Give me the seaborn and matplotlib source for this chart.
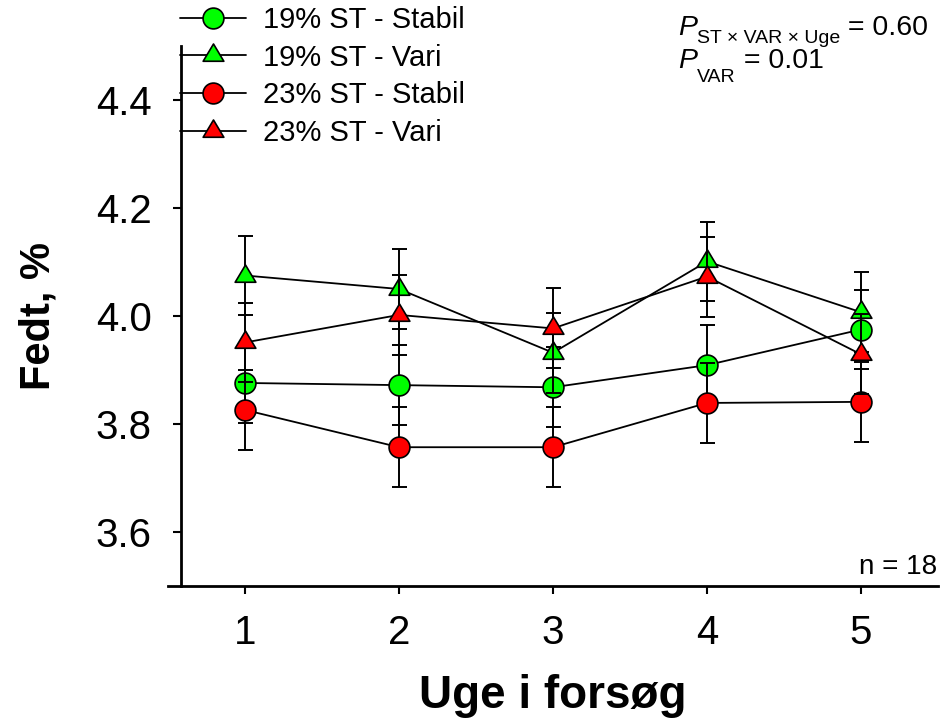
import matplotlib
matplotlib.use("Agg")
import numpy as np
import pandas as pd
import matplotlib.pyplot as plt
from matplotlib.lines import Line2D
from matplotlib.path import Path
import seaborn as sns

# ---- data: milk fat (%) per trial week, mean ± SE ----
weeks = [1, 2, 3, 4, 5]
week_labels = ["1", "2", "3", "4", "5"]
series_names = ["19% ST - Stabil", "19% ST - Vari", "23% ST - Stabil", "23% ST - Vari"]

fat_19_stabil = [3.876, 3.872, 3.868, 3.909, 3.975]
fat_19_vari = [4.075, 4.050, 3.932, 4.101, 4.007]
fat_23_stabil = [3.826, 3.757, 3.757, 3.839, 3.841]
fat_23_vari = [3.951, 4.002, 3.977, 4.073, 3.929]

se_19_stabil = [0.074, 0.074, 0.074, 0.074, 0.074]
se_19_vari = [0.074, 0.074, 0.074, 0.074, 0.074]
se_23_stabil = [0.074, 0.074, 0.074, 0.074, 0.074]
se_23_vari = [0.074, 0.074, 0.074, 0.074, 0.074]

y_ticks = [3.6, 3.8, 4.0, 4.2, 4.4]
y_tick_labels = ["3.6", "3.8", "4.0", "4.2", "4.4"]

p_interaction = "0.60"
p_var = "0.01"
n_label = "n = 18"

GREEN = "#00FF00"
RED = "#FF0000"

# triangle with its centroid on the data point
tri = Path([(0.0, 1.0), (-0.897, -0.5), (0.897, -0.5), (0.0, 1.0)],
           [Path.MOVETO, Path.LINETO, Path.LINETO, Path.CLOSEPOLY])

styles = [
    dict(face=GREEN, marker="o", ms=15.0),
    dict(face=GREEN, marker=tri, ms=16.6),
    dict(face=RED, marker="o", ms=15.0),
    dict(face=RED, marker=tri, ms=16.6),
]

means = [fat_19_stabil, fat_19_vari, fat_23_stabil, fat_23_vari]
errors = [se_19_stabil, se_19_vari, se_23_stabil, se_23_vari]

frames = []
for name, m, e in zip(series_names, means, errors):
    frames.append(pd.DataFrame({"Uge": weeks, "Fedt": m, "SE": e, "Gruppe": name}))
df = pd.concat(frames, ignore_index=True)

sns.set_style("ticks")
plt.rcParams["font.family"] = ["Liberation Sans", "DejaVu Sans"]
plt.rcParams["text.color"] = "black"
plt.rcParams["axes.labelcolor"] = "black"
plt.rcParams["axes.edgecolor"] = "black"
plt.rcParams["xtick.color"] = "black"
plt.rcParams["ytick.color"] = "black"

W, H = 942, 718
fig = plt.figure(figsize=(W / 100, H / 100), dpi=100)
ax = fig.add_axes([168 / W, 1 - 586 / H, 770 / W, 540 / H])

for i, name in enumerate(series_names):
    sub = df[df["Gruppe"] == name]
    st = styles[i]
    z = 3 + i
    ax.errorbar(sub["Uge"], sub["Fedt"], yerr=sub["SE"], fmt="none",
                ecolor="black", elinewidth=1.4, capsize=5.4, capthick=1.4,
                zorder=z)
    sns.lineplot(data=sub, x="Uge", y="Fedt", ax=ax, color="black",
                 linewidth=1.3, marker=st["marker"], markersize=st["ms"],
                 markerfacecolor=st["face"], markeredgecolor="black",
                 markeredgewidth=1.2, errorbar=None, sort=False,
                 legend=False, zorder=z + 0.5)

ax.set_xlim(0.5, 5.5)
ax.set_ylim(3.5, 4.5)
ax.set_xticks(weeks)
ax.set_xticklabels(week_labels)
ax.set_yticks(y_ticks)
ax.set_yticklabels(y_tick_labels)

for side in ["top", "right"]:
    ax.spines[side].set_visible(False)
ax.spines["left"].set_position(("data", 0.585))
ax.spines["left"].set_linewidth(2.0)
ax.spines["bottom"].set_linewidth(2.0)

ax.tick_params(axis="both", direction="out", length=6, width=1.5,
               labelsize=29, colors="black")
ax.tick_params(axis="x", pad=14)
ax.tick_params(axis="y", pad=15)

ax.set_xlabel("Uge i forsøg", fontsize=33, fontweight="bold", labelpad=16)
ax.set_ylabel("Fedt, %", fontsize=30, fontweight="bold", labelpad=27)

# legend
handles = [Line2D([0], [0], color="black", linewidth=1.3, marker=st["marker"],
                  markersize=st["ms"], markerfacecolor=st["face"],
                  markeredgecolor="black", markeredgewidth=1.2)
           for st in styles]
fig.legend(handles, series_names, loc="upper left",
           bbox_to_anchor=(180 / W, 1 - 6 / H), frameon=False,
           fontsize=21, handlelength=2.25, handletextpad=0.6,
           labelspacing=0.33, borderpad=0, borderaxespad=0, numpoints=1,
           labelcolor="black")


# P-values: italic P with a subscript, then the value
def p_line(x_px, base_px, sub_text, value, drop_px):
    t = fig.text(x_px / W, 1 - base_px / H, "P", fontsize=20.5, style="italic",
                 va="baseline", ha="left", color="black")
    s_ann = ax.annotate(sub_text, xy=(1, H - base_px - drop_px),
                        xycoords=(t, "figure pixels"), fontsize=14,
                        va="baseline", ha="left", annotation_clip=False,
                        color="black")
    ax.annotate(" = " + value, xy=(1, H - base_px),
                xycoords=(s_ann, "figure pixels"), fontsize=20.5,
                va="baseline", ha="left", annotation_clip=False,
                color="black")


p_line(678, 35, "ST × VAR × Uge", p_interaction, 8)
p_line(678, 68, "VAR", p_var, 14)

fig.text(937 / W, 1 - 574 / H, n_label, fontsize=20, ha="right",
         va="baseline", color="black")

fig.savefig("out.png", dpi=100)
